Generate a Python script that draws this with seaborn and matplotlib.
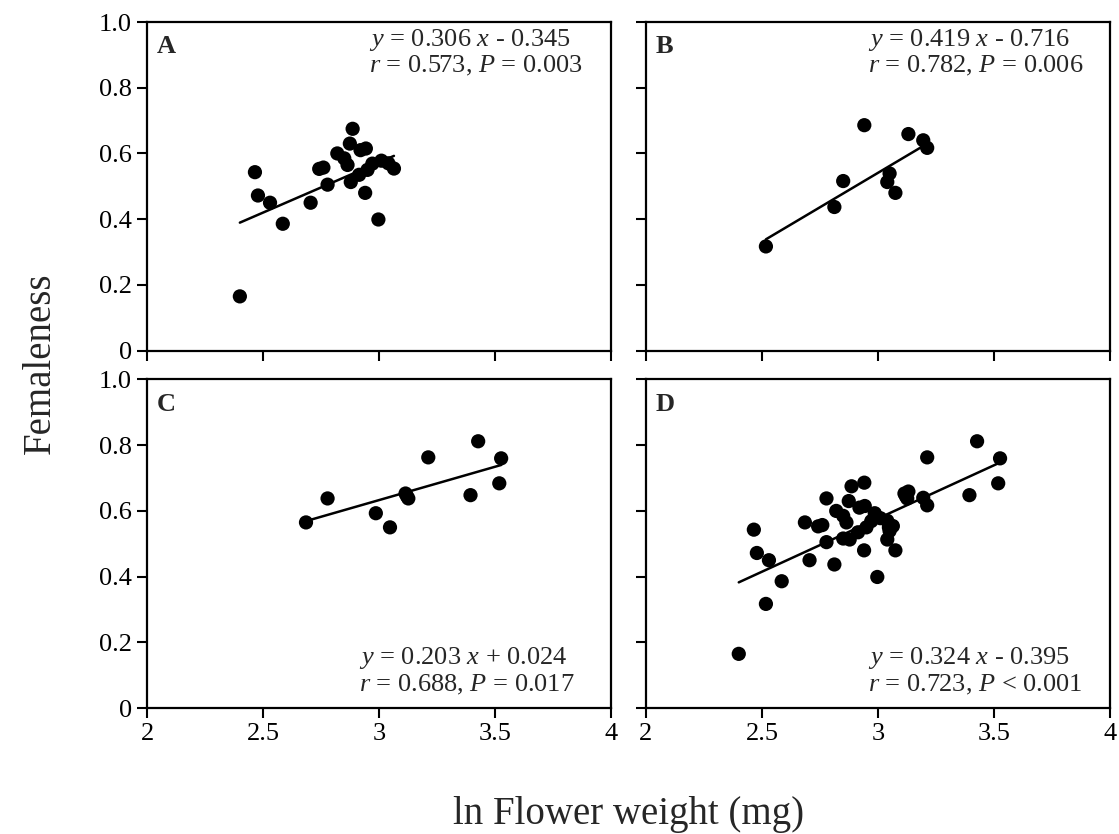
import numpy as np
import pandas as pd
import seaborn as sns
import matplotlib.pyplot as plt

# panel A
a_x = [2.40, 2.465, 2.478, 2.53, 2.585, 2.705, 2.742, 2.76, 2.778, 2.82,
       2.85, 2.864, 2.874, 2.886, 2.878, 2.914, 2.92, 2.943, 2.940, 2.95,
       2.997, 2.971, 3.01, 3.04, 3.064]
a_y = [0.165, 0.543, 0.472, 0.450, 0.386, 0.450, 0.553, 0.557, 0.505, 0.600,
       0.585, 0.565, 0.630, 0.675, 0.513, 0.535, 0.610, 0.615, 0.480, 0.550,
       0.399, 0.569, 0.578, 0.570, 0.554]
# panel B
b_x = [2.517, 2.812, 2.850, 2.941, 3.050, 3.040, 3.075, 3.131, 3.195, 3.212]
b_y = [0.317, 0.437, 0.516, 0.686, 0.539, 0.513, 0.480, 0.659, 0.640, 0.617]
# panel C
c_x = [2.685, 2.778, 2.986, 3.047, 3.114, 3.126, 3.212, 3.394, 3.427, 3.518, 3.526, 3.12]
c_y = [0.565, 0.638, 0.593, 0.550, 0.653, 0.638, 0.763, 0.648, 0.812, 0.684, 0.760, 0.645]

panel_names = ["A", "B", "C", "D"]
slopes = [0.306, 0.419, 0.203, 0.324]
intercepts = [-0.345, -0.716, 0.024, -0.395]
eq_lines = [r"$y$ = 0.306 $x$ - 0.345", r"$y$ = 0.419 $x$ - 0.716",
            r"$y$ = 0.203 $x$ + 0.024", r"$y$ = 0.324 $x$ - 0.395"]
stat_lines = [r"$r$ = 0.573, $P$ = 0.003", r"$r$ = 0.782, $P$ = 0.006",
              r"$r$ = 0.688, $P$ = 0.017", r"$r$ = 0.723, $P$ < 0.001"]

x_ticks = [2, 2.5, 3, 3.5, 4]
x_labels = ["2", "2.5", "3", "3.5", "4"]
y_ticks = [0, 0.2, 0.4, 0.6, 0.8, 1.0]
y_labels = ["0", "0.2", "0.4", "0.6", "0.8", "1.0"]

frames = [
    pd.DataFrame({"x": a_x, "y": a_y}),
    pd.DataFrame({"x": b_x, "y": b_y}),
    pd.DataFrame({"x": c_x, "y": c_y}),
]
frames.append(pd.concat(frames, ignore_index=True))

sns.set_style("ticks")
plt.rcParams["font.family"] = ["Liberation Serif", "DejaVu Serif"]
plt.rcParams["mathtext.fontset"] = "custom"
plt.rcParams["mathtext.rm"] = "Liberation Serif"
plt.rcParams["mathtext.it"] = "Liberation Serif:italic"

fig, axes = plt.subplots(2, 2, figsize=(11.19, 8.34), dpi=100)
fig.subplots_adjust(left=0.1314, right=0.992, top=0.9736, bottom=0.151,
                    wspace=0.075, hspace=0.088)

for i, ax in enumerate(axes.flat):
    df = frames[i]
    sns.scatterplot(data=df, x="x", y="y", ax=ax, color="black", s=105,
                    edgecolor="none", linewidth=0)
    xs = np.array([df["x"].min(), df["x"].max()])
    ax.plot(xs, slopes[i] * xs + intercepts[i], color="black", lw=1.8)

    ax.set_xlim(2, 4)
    ax.set_ylim(0, 1.0)
    ax.set_xticks(x_ticks)
    ax.set_yticks(y_ticks)
    if i >= 2:
        ax.set_xticklabels(x_labels)
    else:
        ax.set_xticklabels([])
    if i % 2 == 0:
        ax.set_yticklabels(y_labels)
    else:
        ax.set_yticklabels([])
    ax.set_xlabel("")
    ax.set_ylabel("")
    ax.tick_params(direction="out", length=7, width=1.5, labelsize=19,
                   color="black", labelcolor="black", pad=4)
    for sp in ax.spines.values():
        sp.set_visible(True)
        sp.set_linewidth(1.6)
        sp.set_color("black")

    ax.text(0.021, 0.925, panel_names[i], transform=ax.transAxes,
            fontsize=19, fontweight="bold", va="center", ha="left")
    if i < 2:
        ty1, ty2 = 0.945, 0.865
    else:
        ty1, ty2 = 0.152, 0.07
    tx = 0.478 if i != 2 else 0.457
    ax.text(tx, ty1, eq_lines[i], transform=ax.transAxes, fontsize=19,
            va="center", ha="left")
    ax.text(tx, ty2, stat_lines[i], transform=ax.transAxes, fontsize=19,
            va="center", ha="left")

fig.text(0.036, 0.565, "Femaleness", rotation=90, fontsize=28,
         va="center", ha="center")
fig.text(0.562, 0.023, "ln Flower weight (mg)", fontsize=28,
         va="center", ha="center")

fig.savefig("out.png", dpi=100)
